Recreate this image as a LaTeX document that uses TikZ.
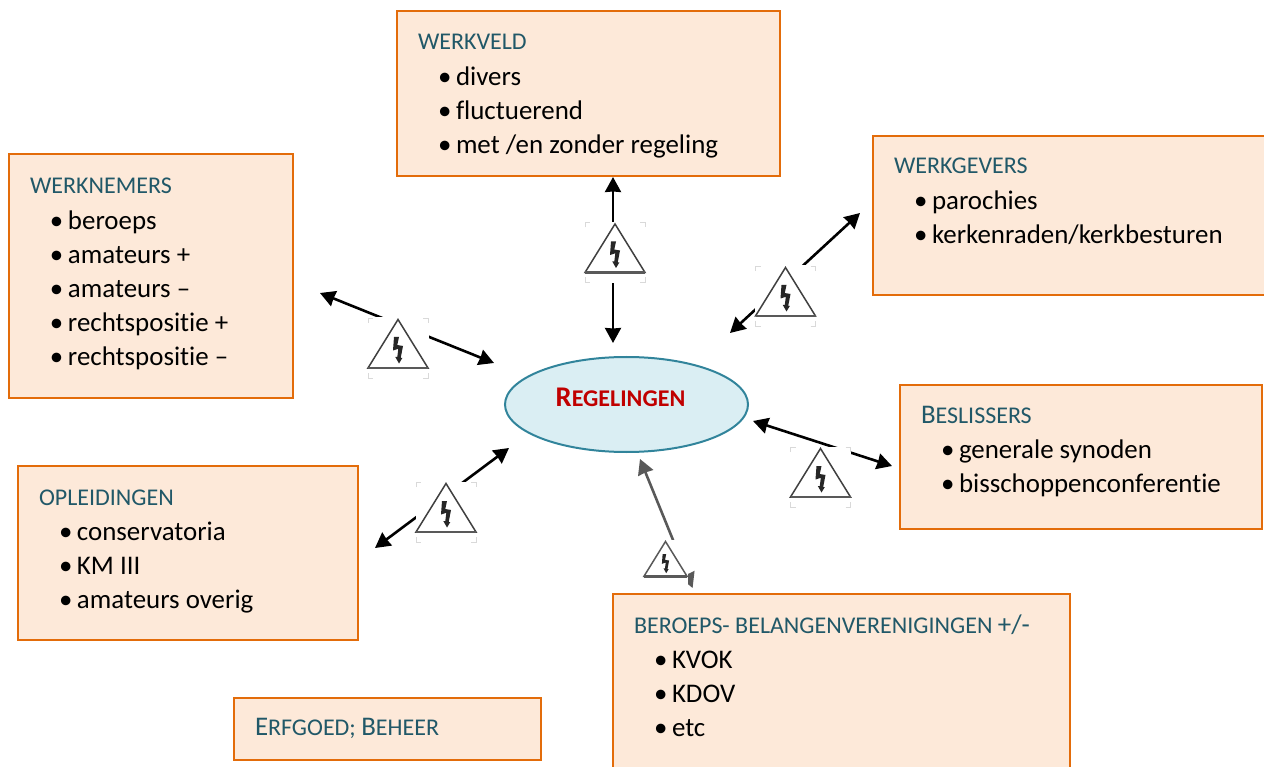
\documentclass[tikz,border=0pt]{standalone}
\usepackage{fontspec}
\setmainfont[Ligatures=NoCommon]{Carlito}
\usepackage{tikz}
\usetikzlibrary{positioning, calc, shapes.geometric, arrows.meta}

\definecolor{boxfill}{HTML}{FDE9D9}
\definecolor{boxline}{HTML}{E36C0A}
\definecolor{headcol}{HTML}{215868}
\definecolor{ellfill}{HTML}{DAEEF3}
\definecolor{ellline}{HTML}{31849B}
\definecolor{regred}{HTML}{C00000}
\definecolor{signcol}{HTML}{404040}
\definecolor{softcol}{HTML}{595959}

% width, height, baseline of first line, content
\newcommand{\boxtext}[4]{\parbox[c][#2][t]{#1}{\fontsize{26.9}{34}\selectfont\leftskip=21pt\rule{0pt}{#3}#4}}
\newcommand{\capfont}{\fontsize{26.9}{34}\selectfont}
\newcommand{\boxhead}[1]{{\fontsize{24}{34}\selectfont\color{headcol}#1}\par\vspace{1.8pt}}
\newcommand{\boxitem}[1]{\hspace*{20pt}\makebox[18pt][l]{\textbullet}#1\par}

\tikzset{
	regbox/.style={draw=boxline,fill=boxfill,line width=2pt,inner sep=0pt,anchor=north west},
	regell/.style={ellipse,draw=ellline,fill=ellfill,line width=2pt,inner sep=0pt,minimum width=243pt,minimum height=95pt},
	link/.style={<->,>={Stealth[length=15pt,width=16pt,inset=0.5pt]},line width=2.6pt},
	warnbox/.style={fill=white,inner sep=0pt,minimum size=#1},
	warnsign/.pic={
		\draw[pic actions,line width=1.5pt,line join=miter] (0,-28.5) -- (30,20) -- (-30,20) -- cycle;
		\draw[softcol,line width=2.8pt] (-30,20) -- (30,20);
		\fill[black!85] (-4,-11) -- (1,-11) -- (-0.7,-3) -- (5,-2) -- (2.7,10) -- (4.3,10) -- (1,15.5) -- (-2.7,9) -- (-0.7,9) -- (0.3,0.8) -- (-5,2.5) -- cycle;
	},
	cropmarks/.pic={
		\draw[black!15,line width=0.5pt]
			(-30,-25) -- (-30,-30) -- (-25,-30)
			(25,-30) -- (30,-30) -- (30,-25)
			(-30,25) -- (-30,30) -- (-25,30)
			(25,30) -- (30,30) -- (30,25);
	}
}

\begin{document}
\begin{tikzpicture}[x=1pt,y=-1pt]
\useasboundingbox (0,0) rectangle (1264,767);
\clip (0,0) rectangle (1264,767);

% boxes
\node[regbox] (werkveld) at (396,10) {\boxtext{383pt}{165pt}{39pt}{%
	\boxhead{WERKVELD}
	\boxitem{divers}
	\boxitem{fluctuerend}
	\boxitem{met /en zonder regeling}}};
\node[regbox] (werkgevers) at (872,135) {\boxtext{400pt}{159pt}{38pt}{%
	\boxhead{WERKGEVERS}
	\boxitem{parochies}
	\boxitem{kerkenraden/kerkbesturen}}};
\node[regbox] (werknemers) at (8,153) {\boxtext{284pt}{244pt}{40pt}{%
	\boxhead{WERKNEMERS}
	\boxitem{beroeps}
	\boxitem{amateurs +}
	\boxitem{amateurs –}
	\boxitem{rechtspositie +}
	\boxitem{rechtspositie –}}};
\node[regbox] (beslissers) at (899,384) {\boxtext{362pt}{144pt}{38pt}{%
	\boxhead{{\capfont B}ESLISSERS}
	\boxitem{generale synoden}
	\boxitem{bisschoppenconferentie}}};
\node[regbox] (opleidingen) at (17,465) {\boxtext{340pt}{174pt}{39pt}{%
	\boxhead{OPLEIDINGEN}
	\boxitem{conservatoria}
	\boxitem{KM III}
	\boxitem{amateurs overig}}};
\node[regbox] (belangen) at (612,593) {\boxtext{457pt}{200pt}{39pt}{%
	\boxhead{BEROEPS- BELANGENVERENIGINGEN {\capfont +/-}}
	\boxitem{KVOK}
	\boxitem{KDOV}
	\boxitem{etc}}};
\node[regbox] (erfgoed) at (233,697) {\boxtext{307pt}{62pt}{37pt}{%
	\boxhead{{\capfont E}RFGOED; {\capfont B}EHEER}}};

\node[regell] (regelingen) at (626.5,404.5) {};
\node[font=\fontsize{24}{24}\selectfont\bfseries,text=regred,inner sep=0pt] (regtitle) at (620.5,397) {{\fontsize{28.5}{24}\selectfont R}EGELINGEN};

% arrows
\coordinate (A1) at (613,177);   \coordinate (B1) at (613,343);
\coordinate (A2) at (860,213);   \coordinate (B2) at (730,333);
\coordinate (A3) at (320,293);   \coordinate (B3) at (494,363);
\coordinate (A4) at (509,448);   \coordinate (B4) at (375,548);
\coordinate (A5) at (753,421);   \coordinate (B5) at (892,466);
\coordinate (A6) at (640,459);   \coordinate (B6) at (692.6,588);

\foreach \i in {1,...,5}
	\draw[link] (A\i) -- (B\i);
\draw[link,softcol] (A6) -- (B6);

% warning signs
\foreach \nm/\xx/\yy in {W1/615/252.5,W2/785.5/296,W3/398/348,W4/446/512,W5/820.5/477}{
	\node[warnbox=61pt] (\nm) at (\xx,\yy) {};
	\pic[draw=signcol] at (\nm) {warnsign};
	\pic at (\nm) {cropmarks};
}
\node[warnbox=45pt] (W6) at (665.5,562) {};
\pic[draw=softcol,scale=0.72] at (W6) {warnsign};
\end{tikzpicture}
\end{document}
